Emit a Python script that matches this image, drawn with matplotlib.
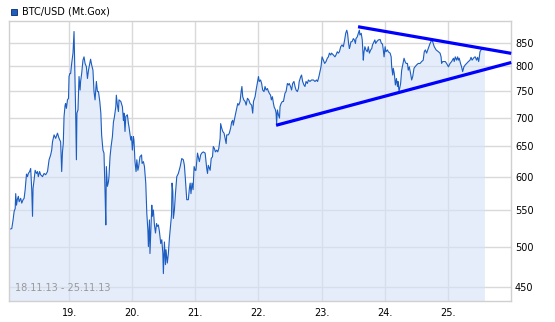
import matplotlib
matplotlib.use("Agg")
import matplotlib.pyplot as plt
from matplotlib.ticker import FixedLocator, NullLocator, FixedFormatter
from matplotlib.patches import Rectangle

# BTC/USD (Mt.Gox), 18.11.13 - 25.11.13
# Zeit in Stunden ab 18.11.13 00:00, Kurs in USD
nov18 = [(1.1, 523), (2.1, 524), (2.6, 536), (3.0, 548), (3.4, 552), (3.6, 574), (3.9, 557),
         (4.2, 565), (4.6, 570), (4.9, 562), (5.5, 567), (5.9, 560), (6.4, 565), (6.8, 567),
         (7.2, 580), (7.4, 590), (7.7, 604), (8.1, 600), (8.4, 605), (8.9, 608), (9.3, 613),
         (9.7, 580), (10.0, 541), (10.2, 582), (10.6, 595), (11.0, 610), (11.5, 605), (11.9, 608),
         (12.2, 600), (12.7, 608), (13.1, 603), (13.8, 600), (14.4, 605), (15.0, 603), (15.7, 608),
         (16.3, 627), (16.9, 635), (17.3, 643), (17.6, 657), (18.2, 669), (18.8, 663), (19.5, 672),
         (20.1, 663), (20.7, 657), (21.1, 608), (21.4, 640), (21.7, 654), (22.0, 702), (22.4, 723),
         (22.6, 726), (22.9, 717), (23.3, 733), (23.7, 736), (23.9, 779)]
nov19 = [(24.2, 785), (24.5, 785), (24.9, 806), (25.4, 828), (25.8, 876), (26.1, 792), (26.4, 714),
         (26.7, 627), (26.9, 708), (27.3, 714), (27.7, 779), (28.1, 752), (28.3, 769), (28.7, 785),
         (29.2, 813), (29.6, 820), (30.0, 806), (30.5, 799), (30.9, 775), (31.3, 792), (31.8, 806),
         (32.1, 815), (32.5, 803), (33.0, 792), (33.4, 749), (33.8, 733), (34.3, 769), (34.7, 749),
         (35.1, 749), (35.6, 730), (36.0, 708), (36.3, 669), (36.8, 643), (37.2, 638), (37.6, 577),
         (37.9, 529), (38.1, 616), (38.5, 585), (38.9, 592), (39.1, 600), (39.5, 632), (39.9, 649),
         (40.4, 666), (40.8, 692), (41.1, 699), (41.7, 720), (41.9, 742), (42.3, 723), (42.7, 711),
         (42.9, 733), (43.6, 730), (44.2, 720), (44.6, 695), (44.8, 708), (45.2, 675), (45.5, 702),
         (46.1, 705), (46.5, 689), (46.7, 684), (47.4, 660), (47.7, 666)]
nov20 = [(48.0, 643), (48.4, 666), (48.6, 660), (49.0, 624), (49.4, 608), (49.7, 627), (50.1, 610),
         (50.4, 616), (50.9, 632), (51.5, 635), (51.7, 621), (52.2, 624), (52.6, 616), (53.1, 590),
         (53.5, 545), (53.9, 522), (54.1, 500), (54.5, 536), (54.7, 491), (55.0, 518), (55.4, 557),
         (55.6, 541), (56.0, 550), (56.4, 529), (56.8, 518), (57.2, 531), (57.5, 527), (57.9, 529),
         (58.3, 520), (58.8, 504), (59.2, 509), (59.6, 491), (59.8, 466), (60.2, 506), (60.6, 477),
         (60.8, 496), (61.3, 479), (61.7, 491), (62.1, 511), (62.5, 527), (62.9, 543), (63.1, 590),
         (63.4, 577), (63.6, 538), (64.0, 550), (64.4, 574), (64.9, 600), (65.5, 605), (66.2, 616),
         (66.8, 629), (67.4, 627), (67.8, 618), (68.2, 595), (68.7, 565), (69.3, 565), (69.7, 582),
         (70.0, 590), (70.3, 574), (70.7, 590), (71.1, 580), (71.5, 616), (71.9, 610)]
nov21 = [(72.2, 610), (72.8, 638), (73.1, 632), (73.5, 624), (74.0, 635), (74.4, 638), (75.0, 640),
         (75.7, 638), (76.3, 613), (76.6, 605), (76.9, 618), (77.6, 610), (78.0, 629), (78.5, 632),
         (78.8, 649), (79.2, 646), (79.6, 640), (80.1, 643), (80.5, 640), (80.9, 646), (81.4, 663),
         (81.6, 689), (82.0, 681), (82.4, 675), (82.9, 672), (83.3, 663), (83.7, 654), (83.9, 669),
         (84.5, 669), (84.9, 672), (85.4, 681), (85.8, 692), (86.2, 695), (86.4, 686), (86.8, 695),
         (87.2, 705), (87.7, 717), (88.1, 726), (88.5, 723), (89.0, 730), (89.4, 749), (89.7, 759),
         (90.0, 739), (90.4, 733), (90.9, 730), (91.3, 723), (91.8, 736), (92.3, 733), (92.8, 726),
         (93.4, 723), (93.8, 708), (94.1, 730), (94.7, 739), (95.1, 752)]
nov22 = [(96.0, 779), (96.3, 769), (96.8, 772), (97.2, 765), (97.6, 752), (98.1, 749), (98.5, 759),
         (98.9, 752), (99.4, 755), (99.8, 749), (100.1, 746), (100.6, 742), (100.9, 733), (101.3, 739),
         (101.7, 726), (102.0, 719), (102.4, 715), (102.7, 708), (102.9, 689), (103.2, 714),
         (103.6, 705), (104.0, 699), (104.2, 720), (104.6, 726), (105.1, 730), (105.5, 730),
         (106.1, 746), (106.5, 749), (107.0, 765), (107.4, 762), (107.7, 765), (108.2, 759),
         (108.6, 752), (109.0, 765), (109.5, 769), (109.9, 759), (110.3, 752), (110.8, 749),
         (111.2, 755), (111.5, 769), (112.1, 779), (112.4, 782), (112.8, 769), (113.3, 762),
         (113.7, 759), (114.1, 769), (114.6, 765), (115.0, 772), (115.6, 769), (116.2, 772),
         (116.9, 772), (117.5, 769), (118.1, 772), (118.5, 769), (119.0, 779), (119.4, 789),
         (119.8, 799)]
nov23 = [(120.2, 820), (120.7, 813), (121.2, 806), (121.7, 810), (122.2, 817), (122.6, 820),
         (123.0, 828), (123.5, 824), (123.8, 828), (124.5, 824), (125.1, 820), (125.5, 824),
         (126.0, 831), (126.4, 828), (126.8, 831), (127.3, 842), (127.8, 846), (128.3, 842),
         (128.8, 857), (129.2, 872), (129.6, 879), (129.9, 872), (130.3, 849), (130.6, 838),
         (130.8, 842), (131.2, 853), (131.6, 853), (132.1, 860), (132.5, 857), (132.9, 849),
         (133.1, 860), (133.6, 864), (134.0, 872), (134.4, 879), (134.6, 868), (135.1, 872),
         (135.5, 857), (135.9, 813), (136.1, 828), (136.5, 842), (136.9, 835), (137.4, 831),
         (137.8, 842), (138.2, 828), (138.7, 835), (139.1, 838), (139.4, 846), (140.0, 853),
         (140.3, 857), (140.6, 849), (141.0, 853), (141.6, 857), (142.3, 858), (142.8, 849),
         (143.2, 848), (143.5, 835), (143.8, 820)]
nov24 = [(144.2, 842), (144.5, 831), (145.1, 835), (145.4, 831), (146.1, 828), (146.5, 820),
         (146.7, 799), (147.1, 782), (147.3, 796), (147.7, 785), (148.1, 762), (148.5, 775),
         (148.9, 759), (149.1, 769), (149.5, 749), (149.9, 759), (150.1, 765), (150.5, 792),
         (150.9, 803), (151.4, 817), (151.8, 810), (152.2, 806), (152.7, 806), (153.0, 792),
         (153.4, 799), (153.9, 785), (154.3, 772), (154.7, 779), (155.2, 796), (155.6, 799),
         (156.2, 803), (156.8, 806), (157.5, 806), (158.1, 810), (158.7, 813), (159.1, 831),
         (159.5, 835), (160.0, 828), (160.6, 838), (161.3, 849), (161.9, 857), (162.3, 853),
         (162.5, 849), (162.9, 842), (163.6, 835), (164.5, 831), (165.1, 828), (165.5, 820),
         (165.7, 806), (166.1, 810), (166.6, 810), (167.1, 810), (167.6, 806)]
nov25 = [(168.3, 799), (168.9, 806), (169.5, 810), (170.2, 817), (170.5, 810), (170.9, 820),
         (171.4, 813), (171.8, 820), (172.1, 813), (172.4, 817), (172.9, 806), (173.3, 799),
         (173.7, 789), (174.2, 799), (174.7, 803), (175.2, 806), (175.9, 810), (176.5, 813),
         (176.9, 819), (177.3, 813), (177.8, 817), (178.1, 819), (178.5, 820), (179.0, 813),
         (179.4, 819), (179.8, 810), (180.0, 817), (180.3, 831), (180.7, 835), (180.9, 836),
         (182.2, 836)]

# Trendlinien (Dreieck)
trend_upper_x = [133.9, 192.2]
trend_upper_y = [887, 827.5]
trend_lower_x = [102.7, 192.2]
trend_lower_y = [686, 808]

day_ticks = [24, 48, 72, 96, 120, 144, 168]
day_labels = ["19.", "20.", "21.", "22.", "23.", "24.", "25."]
price_ticks = [450, 500, 550, 600, 650, 700, 750, 800, 850]

series = nov18 + nov19 + nov20 + nov21 + nov22 + nov23 + nov24 + nov25
t = [p[0] for p in series]
price = [p[1] for p in series]

fig = plt.figure(figsize=(5.55, 3.22), dpi=100)
ax = fig.add_axes([0.0168, 0.0643, 0.9034, 0.8720])

ax.set_yscale("log")
ax.set_xlim(1.17, 192.0)
ax.set_ylim(433.5, 901.5)

# Gitter
for v in price_ticks:
    ax.axhline(v, color="#d9d9d9", lw=1.0, zorder=0)
for d in day_ticks:
    ax.axvline(d, color="#d9d9d9", lw=1.0, zorder=0)

ax.fill_between(t, price, 300, color="#d4e2f8", alpha=0.6, lw=0, zorder=1)
ax.plot(t, price, color="#1c5dc1", lw=0.8, zorder=2)

ax.plot(trend_upper_x, trend_upper_y, color="#0000ff", lw=2.3, zorder=3,
        clip_on=False, solid_capstyle="butt")
ax.plot(trend_lower_x, trend_lower_y, color="#0000ff", lw=2.3, zorder=3,
        clip_on=False, solid_capstyle="butt")

# Achsen
ax.yaxis.tick_right()
ax.yaxis.set_major_locator(FixedLocator(price_ticks))
ax.yaxis.set_major_formatter(FixedFormatter([str(v) for v in price_ticks]))
ax.yaxis.set_minor_locator(NullLocator())
ax.set_xticks(day_ticks)
ax.set_xticklabels(day_labels)
ax.tick_params(axis="both", length=0, labelsize=7, colors="#000000")
ax.tick_params(axis="y", pad=3)
ax.tick_params(axis="x", pad=5)
for s in ax.spines.values():
    s.set_color("#d0d0d0")
    s.set_linewidth(1.0)

ax.text(0.012, 0.028, "18.11.13 - 25.11.13", transform=ax.transAxes,
        fontsize=7, color="#999999", va="bottom", ha="left", zorder=4)

# Titel mit Legendenquadrat
fig.patches.append(Rectangle((11 / 555, 1 - 15 / 322), 6 / 555, 6 / 322,
                             transform=fig.transFigure, facecolor="#1f5fbf",
                             edgecolor="#0a2a6a", lw=0.6))
fig.text(22.5 / 555, 1 - 12 / 322, "BTC/USD (Mt.Gox)", fontsize=7, va="center",
         ha="left", color="#000000")

fig.savefig("out.png", dpi=100)
